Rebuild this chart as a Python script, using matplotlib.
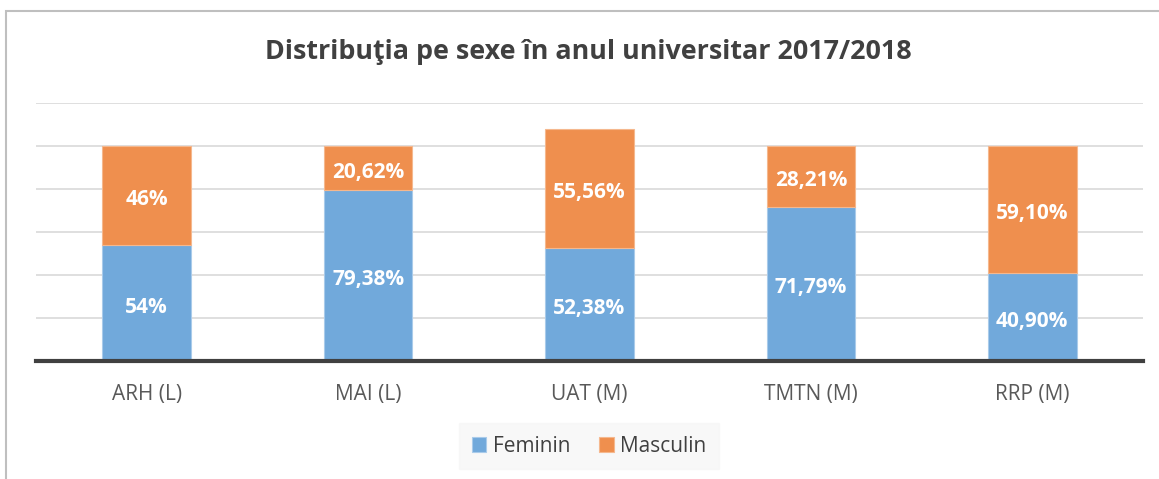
import matplotlib
matplotlib.use("Agg")
import matplotlib.pyplot as plt
from matplotlib.patches import Rectangle

categories = ["ARH (L)", "MAI (L)", "UAT (M)", "TMTN (M)", "RRP (M)"]
feminin = [54, 79.38, 52.38, 71.79, 40.90]
masculin = [46, 20.62, 55.56, 28.21, 59.10]
feminin_labels = ["54%", "79,38%", "52,38%", "71,79%", "40,90%"]
masculin_labels = ["46%", "20,62%", "55,56%", "28,21%", "59,10%"]

plt.rcParams['font.family'] = ['Open Sans', 'DejaVu Sans']

W, H = 1159, 479
fig = plt.figure(figsize=(W / 100, H / 100), dpi=100)
fig.patch.set_facecolor("white")

# outer chart frame
fig.add_artist(Rectangle((6 / W, -0.05), 1.1, 1 - 11 / H + 0.05, transform=fig.transFigure,
                         fill=False, edgecolor="#bfbfbf", linewidth=1.5))

ax = fig.add_axes([36 / W, 1 - 361 / H, (1143 - 36) / W, (361 - 103) / H])
x = range(len(categories))
blue = "#71a9db"
orange = "#ef8f4e"
b1 = ax.bar(x, feminin, width=0.4, color=blue, edgecolor="#a9cbea", linewidth=0.8, label="Feminin", zorder=3)
b2 = ax.bar(x, masculin, width=0.4, bottom=feminin, color=orange, edgecolor="#f5b88e", linewidth=0.8,
            label="Masculin", zorder=3)

for i in x:
    ax.annotate(feminin_labels[i], (i, feminin[i] / 2), xytext=(0, -3), textcoords="offset points",
                ha="center", va="center", color="white", fontsize=15, fontweight="bold", zorder=4)
    ax.annotate(masculin_labels[i], (i, feminin[i] + masculin[i] / 2), xytext=(0, -3),
                textcoords="offset points", ha="center", va="center", color="white",
                fontsize=15, fontweight="bold", zorder=4)

ax.set_xlim(-0.5, len(categories) - 0.5)
ax.set_ylim(0, 120)
ax.set_yticks(range(0, 121, 20))
ax.yaxis.grid(True, color="#d9d9d9", linewidth=1.2, zorder=0)
ax.tick_params(axis="y", left=False, labelleft=False)
ax.tick_params(axis="x", bottom=False, labelsize=15, labelcolor="#595959", pad=13)
ax.set_xticks(list(x))
ax.set_xticklabels(categories)
for s in ["top", "right", "left"]:
    ax.spines[s].set_visible(False)
ax.spines["bottom"].set_color("#404040")
ax.spines["bottom"].set_linewidth(3)
ax.spines["bottom"].set_zorder(5)

fig.text(588 / W, 1 - 52 / H, "Distribuţia pe sexe în anul universitar 2017/2018", ha="center", va="center",
         fontsize=19.4, fontweight="bold", color="#404040")

leg = fig.legend(handles=[b1, b2], labels=["Feminin", "Masculin"], loc="center",
                 bbox_to_anchor=(589 / W, 1 - 446 / H), ncol=2, frameon=True, fontsize=15,
                 handlelength=0.7, handleheight=0.7, handletextpad=0.3, columnspacing=1.4,
                 borderpad=0.6, fancybox=False)
leg.get_frame().set_facecolor("#f7f7f7")
leg.get_frame().set_edgecolor("#f7f7f7")
for t in leg.get_texts():
    t.set_color("#404040")

fig.savefig("out.png", dpi=100)
